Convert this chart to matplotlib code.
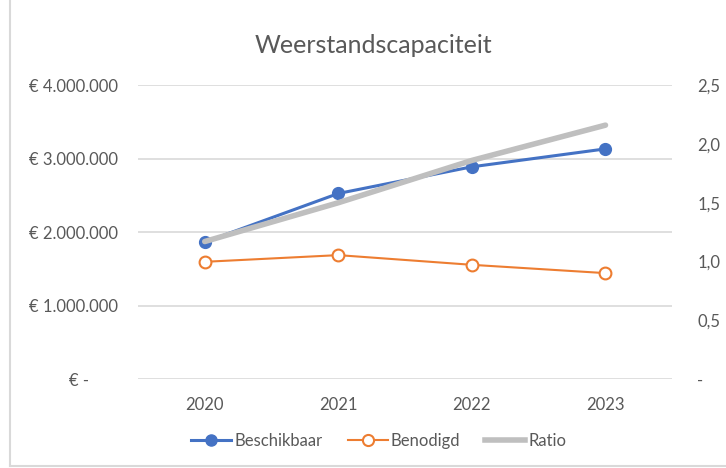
import matplotlib.pyplot as plt
from matplotlib.ticker import FuncFormatter
from matplotlib.lines import Line2D

# data
years = ["2020", "2021", "2022", "2023"]
beschikbaar = [1864000, 2526000, 2889000, 3133000]
benodigd = [1596000, 1687000, 1555000, 1442000]
ratio = [1.17, 1.50, 1.86, 2.16]

left_ticks = [0, 1000000, 2000000, 3000000, 4000000]
right_ticks = [0, 0.5, 1.0, 1.5, 2.0, 2.5]

BLUE = "#4472C4"
ORANGE = "#ED7D31"
GRAY = "#BFBFBF"
TEXT = "#595959"
GRID = "#D9D9D9"

plt.rcParams["font.family"] = ["Lato", "DejaVu Sans"]

fig = plt.figure(figsize=(7.26, 4.68), dpi=100)
ax = fig.add_axes([0.19, 0.19, 0.736, 0.628])
ax2 = ax.twinx()

x = list(range(len(years)))

ax.plot(x, beschikbaar, color=BLUE, lw=2.2, marker="o", ms=8.5,
        mfc=BLUE, mec=BLUE, zorder=3, label="Beschikbaar")
ax.plot(x, benodigd, color=ORANGE, lw=1.5, marker="o", ms=8.5,
        mfc="white", mec=ORANGE, mew=1.5, zorder=3, label="Benodigd")
ax2.plot(x, ratio, color=GRAY, lw=4, solid_capstyle="round", label="Ratio")

ax.set_xlim(-0.5, 3.5)
ax.set_ylim(0, 4000000)
ax2.set_ylim(0, 2.5)
ax.set_xticks(x)
ax.set_xticklabels(years)
ax.set_yticks(left_ticks)
ax2.set_yticks(right_ticks)


def euro(v, pos):
    if v == 0:
        return "€ -       "
    return "€ " + f"{int(v):,}".replace(",", ".")


def comma(v, pos):
    if v == 0:
        return "-  "
    return f"{v:.1f}".replace(".", ",")


ax.yaxis.set_major_formatter(FuncFormatter(euro))
ax2.yaxis.set_major_formatter(FuncFormatter(comma))

ax.grid(axis="y", color=GRID, lw=1.2)
ax.set_axisbelow(True)
for a in (ax, ax2):
    for s in a.spines.values():
        s.set_visible(False)
    a.tick_params(length=0, colors=TEXT, labelsize=12)
ax.tick_params(axis="y", pad=14)
ax2.tick_params(axis="y", pad=18)
ax.tick_params(axis="x", pad=13)

fig.text(0.515, 0.903, "Weerstandscapaciteit", ha="center", va="center",
         fontsize=18, color=TEXT)

handles = [
    Line2D([], [], color=BLUE, lw=2.2, marker="o", ms=8, mfc=BLUE, mec=BLUE),
    Line2D([], [], color=ORANGE, lw=1.5, marker="o", ms=8, mfc="white", mec=ORANGE, mew=1.5),
    Line2D([], [], color=GRAY, lw=4),
]
fig.legend(handles, ["Beschikbaar", "Benodigd", "Ratio"], loc="center",
           bbox_to_anchor=(0.522, 0.058), ncol=3, frameon=False,
           fontsize=12, labelcolor=TEXT, handlelength=2.4,
           handletextpad=0.2, columnspacing=1.5)

# chart border
fig.add_artist(Line2D([10 / 726, 10 / 726], [0.005, 1], color=GRID, lw=1.5,
                      transform=fig.transFigure))
fig.add_artist(Line2D([10 / 726, 1], [0.005, 0.005], color=GRID, lw=1.5,
                      transform=fig.transFigure))

fig.savefig("out.png", dpi=100)
